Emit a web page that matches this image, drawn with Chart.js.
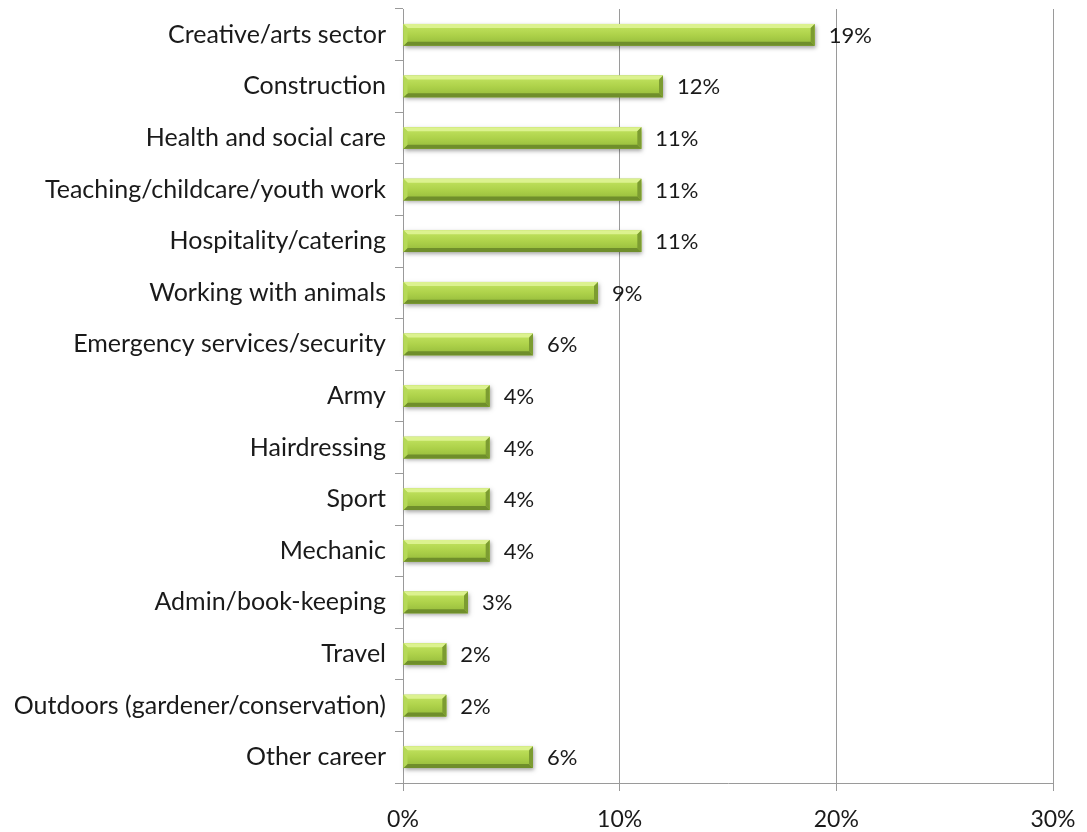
<!DOCTYPE html>
<html>
<head>
<meta charset="utf-8">
<title>Career areas</title>
<script src="https://cdn.jsdelivr.net/npm/chart.js@4/dist/chart.umd.min.js"></script>
<style>
  html, body { margin: 0; padding: 0; background: #fff; }
  #wrap { width: 1087px; height: 832px; position: relative; }
</style>
</head>
<body>
<div id="wrap"><canvas id="grafico"></canvas></div>
<script>
// Categorias e valores (%)
const categories = [
    'Creative/arts sector',
    'Construction',
    'Health and social care',
    'Teaching/childcare/youth work',
    'Hospitality/catering',
    'Working with animals',
    'Emergency services/security',
    'Army',
    'Hairdressing',
    'Sport',
    'Mechanic',
    'Admin/book-keeping',
    'Travel',
    'Outdoors (gardener/conservation)',
    'Other career'
];
const shares = [19, 12, 11, 11, 11, 9, 6, 4, 4, 4, 4, 3, 2, 2, 6];
const xTicks = [0, 10, 20, 30];

const fontFamily = 'Lato, "Open Sans", sans-serif';
const gridGrey = '#9a9a9a';

// Barras com efeito chanfrado, desenhadas a partir dos elementos do gráfico
const bevelBars = {
    id: 'bevelBars',
    afterDatasetsDraw(chart) {
        const ctx = chart.ctx;
        const meta = chart.getDatasetMeta(0);
        meta.data.forEach(bar => {
            const L = bar.base;
            const R = bar.x;
            const T = bar.y - bar.height / 2;
            const B = bar.y + bar.height / 2;
            const b = 4;

            // sombra
            ctx.save();
            ctx.shadowColor = 'rgba(0,0,0,0.35)';
            ctx.shadowBlur = 4;
            ctx.shadowOffsetX = 1;
            ctx.shadowOffsetY = 2;
            ctx.fillStyle = '#8fb336';
            ctx.fillRect(L, T, R - L, B - T);
            ctx.restore();

            // face central
            const g = ctx.createLinearGradient(0, T, 0, B);
            g.addColorStop(0, '#c4e562');
            g.addColorStop(0.5, '#aed24a');
            g.addColorStop(1, '#93b93a');
            ctx.fillStyle = g;
            ctx.fillRect(L, T, R - L, B - T);

            const poly = (pts, color) => {
                ctx.beginPath();
                ctx.moveTo(pts[0][0], pts[0][1]);
                for (let i = 1; i < pts.length; i++) ctx.lineTo(pts[i][0], pts[i][1]);
                ctx.closePath();
                ctx.fillStyle = color;
                ctx.fill();
            };
            poly([[L, T], [R, T], [R - b, T + b], [L + b, T + b]], '#dcf28f');
            poly([[L, B], [R, B], [R - b, B - b], [L + b, B - b]], '#6f8e2b');
            poly([[L, T], [L + b, T + b], [L + b, B - b], [L, B]], '#b5d957');
            poly([[R, T], [R - b, T + b], [R - b, B - b], [R, B]], '#7c9c31');
        });
    }
};

// Rótulos de valor à direita das barras
const valueLabels = {
    id: 'valueLabels',
    afterDatasetsDraw(chart) {
        const ctx = chart.ctx;
        const meta = chart.getDatasetMeta(0);
        ctx.save();
        ctx.font = '22px ' + fontFamily;
        ctx.fillStyle = '#1a1a1a';
        ctx.textAlign = 'left';
        ctx.textBaseline = 'middle';
        meta.data.forEach((bar, i) => {
            ctx.fillText(shares[i] + '%', bar.x + 14, bar.y + 1);
        });
        ctx.restore();
    }
};

const ctx = document.getElementById('grafico');
new Chart(ctx, {
    type: 'bar',
    data: {
        labels: categories,
        datasets: [{
            data: shares,
            backgroundColor: 'rgba(0,0,0,0)',
            borderWidth: 0,
            barPercentage: 0.42,
            categoryPercentage: 1
        }]
    },
    options: {
        indexAxis: 'y',
        responsive: true,
        maintainAspectRatio: false,
        animation: false,
        layout: { padding: { top: 9, right: 34, left: 0, bottom: 0 } },
        plugins: {
            legend: { display: false },
            tooltip: { enabled: false }
        },
        scales: {
            x: {
                min: 0,
                max: 30,
                afterBuildTicks: scale => {
                    scale.ticks = xTicks.map(v => ({ value: v }));
                },
                afterFit: scale => {
                    scale.height = 49;
                    scale.paddingRight = 0;
                },
                grid: {
                    color: gridGrey,
                    lineWidth: 1,
                    drawTicks: true,
                    tickLength: 8
                },
                border: { display: true, color: gridGrey },
                ticks: {
                    padding: 15,
                    color: '#1a1a1a',
                    font: { family: fontFamily, size: 23 },
                    maxRotation: 0,
                    callback: v => v + '%'
                }
            },
            y: {
                afterFit: scale => {
                    scale.width = 403;
                    scale.paddingTop = 0;
                    scale.paddingBottom = 0;
                },
                grid: {
                    drawOnChartArea: false,
                    drawTicks: true,
                    tickLength: 8,
                    color: gridGrey
                },
                border: { display: true, color: gridGrey },
                ticks: {
                    padding: 9,
                    color: '#1a1a1a',
                    font: { family: fontFamily, size: 25 },
                    autoSkip: false
                }
            }
        }
    },
    plugins: [bevelBars, valueLabels]
});
</script>
</body>
</html>
